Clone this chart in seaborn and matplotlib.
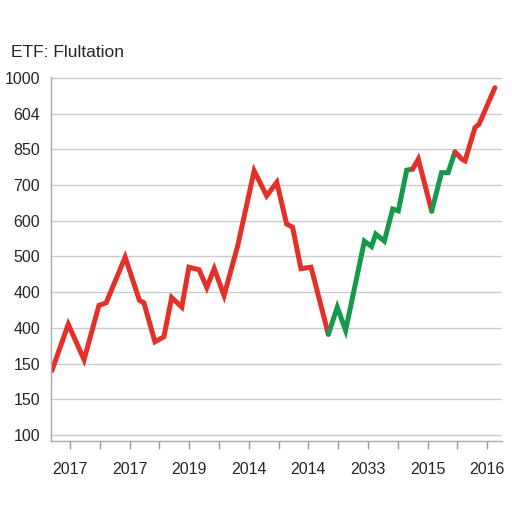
import numpy as np
import pandas as pd
import matplotlib
matplotlib.use("Agg")
import matplotlib.pyplot as plt
import seaborn as sns

sns.set_style("whitegrid")
plt.rcParams['font.family'] = ['Liberation Sans', 'DejaVu Sans']

# line: x in tick units, y in gridline units
x_pos = [-0.61, -0.06, 0.47, 0.97, 1.21, 1.85, 2.33, 2.48, 2.85, 3.15,
         3.41, 3.75, 3.99, 4.33, 4.59, 4.84, 5.17, 5.63, 6.18, 6.60,
         6.94, 7.27, 7.47, 7.75, 8.09, 8.67, 8.97, 9.25, 9.88, 10.12,
         10.26, 10.55, 10.83, 11.02, 11.30, 11.50, 11.69, 12.14, 12.47, 12.69,
         12.92, 13.15, 13.26, 13.59, 13.73, 14.26]
y_val = [1.80, 3.10, 2.11, 3.63, 3.70, 4.98, 3.77, 3.70, 2.61, 2.75,
         3.85, 3.58, 4.70, 4.63, 4.13, 4.66, 3.91, 5.31, 7.40, 6.70,
         7.08, 5.91, 5.82, 4.66, 4.70, 2.82, 3.58, 2.93, 5.43, 5.28,
         5.63, 5.43, 6.33, 6.28, 7.42, 7.45, 7.73, 6.27, 7.35, 7.35,
         7.93, 7.73, 7.68, 8.61, 8.71, 9.73]
# colour runs: (first index, last index, regime)
runs = [(0, 25, 'red'), (25, 35, 'green'), (35, 37, 'red'),
        (37, 40, 'green'), (40, 45, 'red')]

y_labels = ['100', '150', '150', '400', '400', '500', '600', '700', '850', '604', '1000']
x_labels = ['2017', '', '2017', '', '2019', '', '2014', '', '2014', '',
            '2033', '', '2015', '', '2016']
title = 'ETF: Flultation'

palette = {'red': '#e5302a', 'green': '#16994a'}

fig = plt.figure(figsize=(5.12, 5.12), dpi=100)
ax = fig.add_axes([0.0996, 0.1387, 0.8809, 0.7109])

for i0, i1, reg in runs:
    seg = pd.DataFrame({'x': x_pos[i0:i1 + 1], 'y': y_val[i0:i1 + 1]})
    sns.lineplot(data=seg, x='x', y='y', ax=ax, color=palette[reg],
                 linewidth=3.6, sort=False, estimator=None,
                 solid_capstyle='round', solid_joinstyle='miter')

ax.set_xlim(-0.64, 14.5)
ax.set_ylim(-0.17, 10.03)
ax.set_yticks(range(len(y_labels)))
ax.set_yticklabels(y_labels, fontsize=11.5)
ax.set_xticks(range(len(x_labels)))
ax.set_xticklabels(x_labels, fontsize=11.5)
ax.set_xlabel('')
ax.set_ylabel('')

ax.grid(axis='y', color='#cccccc', linewidth=1.0)
ax.grid(axis='x', visible=False)
ax.tick_params(axis='y', length=0, pad=8)
ax.tick_params(axis='x', length=6, width=1, color='#999999', direction='out', pad=9, bottom=True)
for s in ['top', 'right']:
    ax.spines[s].set_visible(False)
for s in ['left', 'bottom']:
    ax.spines[s].set_visible(True)
    ax.spines[s].set_color('#aaaaaa')
    ax.spines[s].set_linewidth(1.0)

fig.text(11 / 512, 1 - 57 / 512, title, fontsize=12.5, ha='left', va='baseline')

fig.savefig('out.png', dpi=100, facecolor='white')
